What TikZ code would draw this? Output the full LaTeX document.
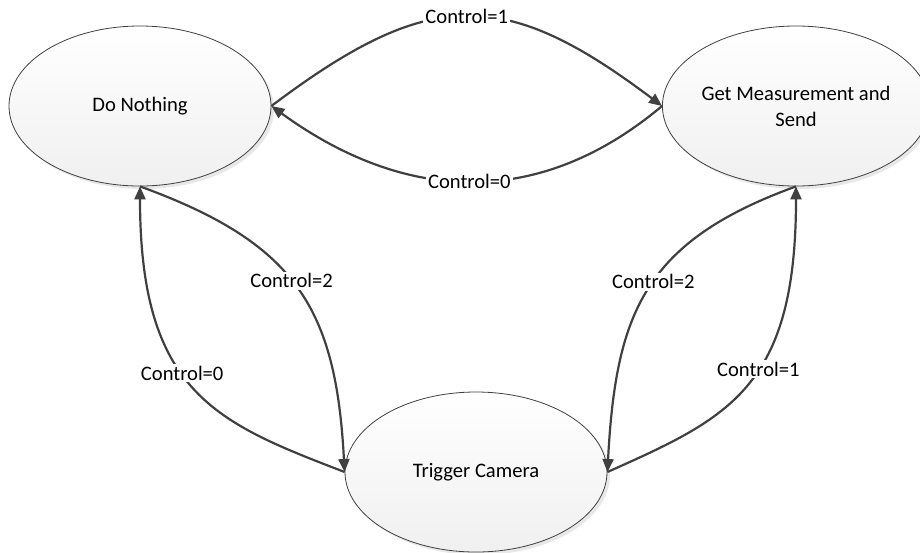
\documentclass[tikz,border=0pt]{standalone}
\usepackage{fontspec}
\setmainfont{Carlito}
\usetikzlibrary{arrows.meta,shapes.geometric,shadows}
\begin{document}
\begin{tikzpicture}[x=0.5pt, y=-0.5pt,
  state/.style={ellipse, draw=black!75, line width=0.4pt, minimum width=131pt, minimum height=80pt, inner sep=0pt,
    top color=white, bottom color=black!6, drop shadow={shadow xshift=1.5pt, shadow yshift=-1.5pt, fill=black!18},
    align=center, font=\fontsize{10.3}{13}\selectfont},
  trans/.style={draw=black!75, line width=1.1pt, -{Triangle[length=6.5pt,width=5.5pt]}},
  cond/.style={fill=white, inner sep=1pt, font=\fontsize{10.3}{13}\selectfont}]
	\useasboundingbox (0,0) rectangle (920,552);
	\node[state] (nothing) at (140,106) {Do Nothing};
	\node[state] (measure) at (796,106) {Get Measurement and\\Send};
	\node[state] (camera) at (476,472) {Trigger Camera};
	% top pair
	\draw[trans] (nothing.east) to[out=37, in=143, looseness=1.3] node[cond] {Control=1} (measure.west);
	\draw[trans] (measure.west) to[out=-140, in=-36, looseness=1.07] node[cond] {Control=0} (nothing.east);
	% left pair
	\draw[trans] (camera.west) to[out=159, in=-90, out looseness=1, in looseness=1.5] node[cond, pos=0.56] {Control=0} (nothing.south);
	\draw[trans] (nothing.south) to[out=-20, in=93, looseness=1.2] node[cond, pos=0.47] {Control=2} (camera.west);
	% right pair
	\draw[trans] (camera.east) to[out=24, in=-90, out looseness=1, in looseness=1.5] node[cond, pos=0.56] {Control=1} (measure.south);
	\draw[trans] (measure.south) to[out=200, in=87, looseness=1.2] node[cond, pos=0.47] {Control=2} (camera.east);
\end{tikzpicture}
\end{document}
